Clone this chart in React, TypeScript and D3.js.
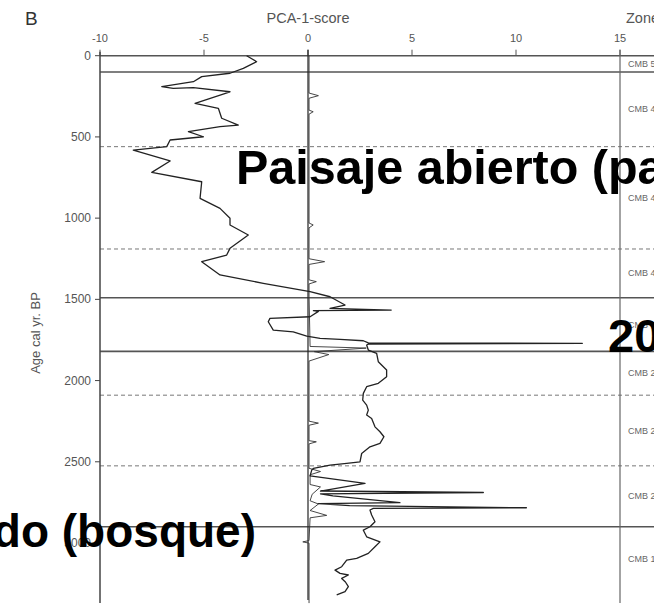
import React from "react";
import * as d3 from "d3";

// ---- data ----
const xTicks = [-10, -5, 0, 5, 10, 15];
const yTicks = [0, 500, 1000, 1500, 2000, 2500, 3000];

// main PCA-1 curve: [age cal yr BP, score]
const mainAges = [0, 37, 78, 108, 129, 160, 191, 201, 197, 222, 293, 324, 385, 427, 437, 468, 499, 519, 560, 581, 648, 718, 776, 878, 940, 1001, 1042, 1104, 1186, 1227, 1268, 1350, 1401, 1453, 1484, 1535, 1555, 1566, 1570, 1574, 1607, 1617, 1638, 1689, 1700, 1726, 1740, 1746, 1755, 1768, 1771, 1776, 1781, 1812, 1833, 1884, 1935, 1976, 2017, 2038, 2079, 2120, 2151, 2182, 2212, 2233, 2285, 2315, 2346, 2387, 2408, 2449, 2500, 2510, 2521, 2541, 2551, 2587, 2633, 2680, 2689, 2697, 2710, 2752, 2758, 2770, 2783, 2787, 2797, 2828, 2869, 2900, 2921, 2962, 2993, 3023, 3064, 3095, 3105, 3146, 3167, 3187, 3197, 3218, 3240, 3269, 3300, 3320];
const mainScores = [-2.95, -2.47, -3.11, -3.75, -5.11, -5.51, -7.03, -6.48, -5.51, -3.75, -5.43, -4.31, -4.15, -3.35, -4.23, -5.75, -5.03, -6.63, -6.79, -8.4, -6.63, -7.51, -5.11, -5.19, -4.23, -3.75, -3.75, -2.87, -3.75, -3.91, -5.11, -4.23, -2.15, 0.1, 1.06, 1.78, 1.06, 4.0, 0.26, 0.5, 0.1, -1.83, -1.91, -1.67, -0.71, -0.06, 0.58, 1.54, 2.66, 2.9, 13.19, 2.9, 2.82, 2.9, 3.3, 3.38, 3.78, 3.78, 3.38, 2.82, 2.66, 2.63, 2.82, 2.9, 2.82, 3.06, 3.22, 3.46, 3.65, 3.46, 2.98, 2.58, 2.5, 1.86, 1.06, 0.26, 0.18, 0.1, 2.74, 0.6, 8.43, 0.6, 1.2, 4.42, 0.5, 2.0, 10.5, 3.14, 2.98, 3.06, 3.22, 2.98, 2.66, 2.82, 3.46, 3.22, 2.9, 2.34, 1.86, 1.62, 1.3, 1.54, 1.94, 1.62, 1.8, 1.94, 1.78, 1.38];

// secondary thin trace hugging zero
const subAges = [0, 230, 246, 262, 335, 345, 360, 1030, 1042, 1060, 1250, 1268, 1285, 1380, 1391, 1405, 1480, 1790, 1800, 1822, 1840, 1880, 2250, 2262, 2275, 2370, 2377, 2390, 2540, 2560, 2580, 2640, 2655, 2700, 2740, 2760, 2800, 2830, 2845, 2985, 2993, 3001, 3370];
const subScores = [0.05, 0.05, 0.5, 0.05, 0.05, 0.25, 0.05, 0.05, 0.25, 0.05, 0.05, 0.8, 0.05, 0.05, 0.4, 0.05, 0.05, 0.1, 2.8, 0.3, 1.0, 0.05, 0.05, 0.5, 0.05, 0.05, 0.4, 0.05, 0.05, 0.6, 0.1, 0.1, 0.6, 0.2, 0.1, 0.5, 0.1, 0.9, 0.1, 0.05, -0.25, 0.05, 0.05];

// zones
const zoneBounds = [0, 100, 560, 1190, 1490, 1820, 2090, 2525, 2900];
const zoneDashed = [false, false, true, true, false, false, true, true, false];
const zoneLabels = ["CMB 5", "CMB 4c", "CMB 4b", "CMB 4a", "CMB 3", "CMB 2c", "CMB 2b", "CMB 2a", "CMB 1"];
const zoneBottom = 3300;

const W = 654;
const H = 605;

export default function App() {
  const x = d3.scaleLinear().domain([-10, 15]).range([100, 620]);
  const y = d3.scaleLinear().domain([0, 3000]).range([55.7, 543]);

  const mainData = mainAges.map((a, i) => [a, mainScores[i]] as [number, number]);
  const subData = subAges.map((a, i) => [a, subScores[i]] as [number, number]);
  const line = d3
    .line<[number, number]>()
    .x((d) => x(d[1]))
    .y((d) => y(d[0]));

  const grey = "#555";
  const bottomY = 603;

  return (
    <svg
      width={W}
      height={H}
      style={{ position: "absolute", left: 0, top: 0, background: "#fff" }}
      fontFamily="Liberation Sans, Arial, sans-serif"
    >
      <rect x={0} y={0} width={W} height={H} fill="#fff" />
      {/* Panel letter & titles */}
      <text x={25} y={25} fontSize={19} fill="#333">B</text>
      <text x={x(0)} y={23} fontSize={14.5} fill={grey} textAnchor="middle">PCA-1-score</text>
      <text x={626} y={23} fontSize={14.5} fill={grey}>Zones</text>

      {/* zone lines */}
      {zoneBounds.map((b, i) => (
        <line
          key={"z" + i}
          x1={x(-10)}
          x2={W}
          y1={y(b)}
          y2={y(b)}
          stroke={zoneDashed[i] ? "#777" : "#555"}
          strokeWidth={zoneDashed[i] ? 1 : 1.6}
          strokeDasharray={zoneDashed[i] ? "4,3" : undefined}
        />
      ))}
      {/* zone labels */}
      {zoneLabels.map((l, i) => {
        const top = zoneBounds[i];
        const bot = i + 1 < zoneBounds.length ? zoneBounds[i + 1] : zoneBottom;
        return (
          <text key={"zl" + i} x={628} y={y((top + bot) / 2) + 3} fontSize={9} fill="#666">
            {l}
          </text>
        );
      })}

      {/* top axis */}
      {xTicks.map((t) => (
        <g key={"xt" + t}>
          <line x1={x(t)} x2={x(t)} y1={y(0)} y2={y(0) - 6} stroke="#555" strokeWidth={1} />
          <text x={x(t)} y={42} fontSize={11} fill={grey} textAnchor="middle">{t}</text>
        </g>
      ))}

      {/* left axis */}
      <line x1={x(-10)} x2={x(-10)} y1={y(0) - 4} y2={bottomY} stroke="#444" strokeWidth={1.5} />
      {yTicks.map((t) => (
        <g key={"yt" + t}>
          <line x1={x(-10) - 5} x2={x(-10)} y1={y(t)} y2={y(t)} stroke="#444" strokeWidth={1} />
          <text x={x(-10) - 9} y={y(t) + 4} fontSize={12} fill={grey} textAnchor="end">{t}</text>
        </g>
      ))}
      <text
        transform={`translate(40, 333) rotate(-90)`}
        fontSize={13}
        fill={grey}
        textAnchor="middle"
      >
        Age cal yr. BP
      </text>

      {/* right frame & zero line */}
      <line x1={x(15)} x2={x(15)} y1={y(0) - 6} y2={bottomY} stroke="#666" strokeWidth={1.2} />
      <line x1={x(0)} x2={x(0)} y1={y(0) - 6} y2={bottomY - 3} stroke="#222" strokeWidth={1.2} />

      {/* curves */}
      <path d={line(subData) || ""} fill="none" stroke="#333" strokeWidth={0.9} />
      <path d={line(mainData) || ""} fill="none" stroke="#222" strokeWidth={1.3} strokeLinejoin="round" />

      {/* overlaid captions */}
      <g fontFamily="Liberation Sans, Arial, sans-serif" fontWeight="bold" fill="#000">
        <text x={236} y={184} fontSize={48.5}>Paisaje abierto (pa</text>
        <text x={608} y={352} fontSize={47}>20</text>
        <text x={256} y={547} fontSize={46} textAnchor="end">do (bosque)</text>
      </g>
    </svg>
  );
}
